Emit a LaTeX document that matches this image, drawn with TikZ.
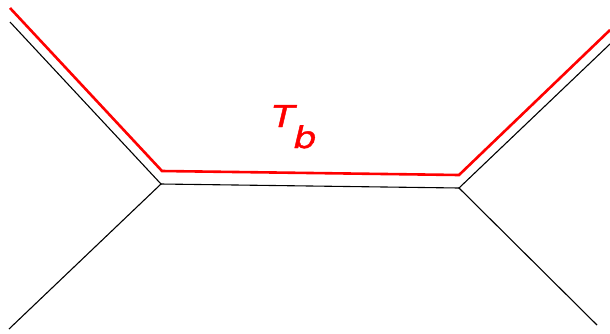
\documentclass[tikz,border=0pt]{standalone}
\usepackage{fontspec}
\newfontfamily\lblfont[FakeBold=1.2]{DejaVu Sans}
\begin{document}
\begin{tikzpicture}[x=1pt,y=-1pt,
  blk/.style={draw=black,line width=1.1pt},
  redl/.style={draw=red,line width=2.6pt,line join=miter},
  lbl/.style={text=red,inner sep=0pt,font=\lblfont\itshape\fontsize{30}{32}\selectfont}]
\useasboundingbox (0,0) rectangle (610,333);
% black vertices
\coordinate (L) at (161,184);
\coordinate (R) at (459,188);
\coordinate (tl) at (10,22);
\coordinate (bl) at (9,329);
\coordinate (tr) at (610,44);
\coordinate (br) at (597,325);
\draw[blk] (tl) -- (L) -- (bl);
\draw[blk] (L) -- (R);
\draw[blk] (tr) -- (R) -- (br);
% red path
\coordinate (r1) at (10,8);
\coordinate (r2) at (162,171);
\coordinate (r3) at (459,175);
\coordinate (r4) at (610,30);
\draw[redl] (r1) -- (r2) -- (r3) -- (r4);
\node[lbl,anchor=base west] (Tb) at (272,127) {\scalebox{1.22}[1]{T\kern-1pt\lower21pt\hbox{b}}};
\end{tikzpicture}
\end{document}
